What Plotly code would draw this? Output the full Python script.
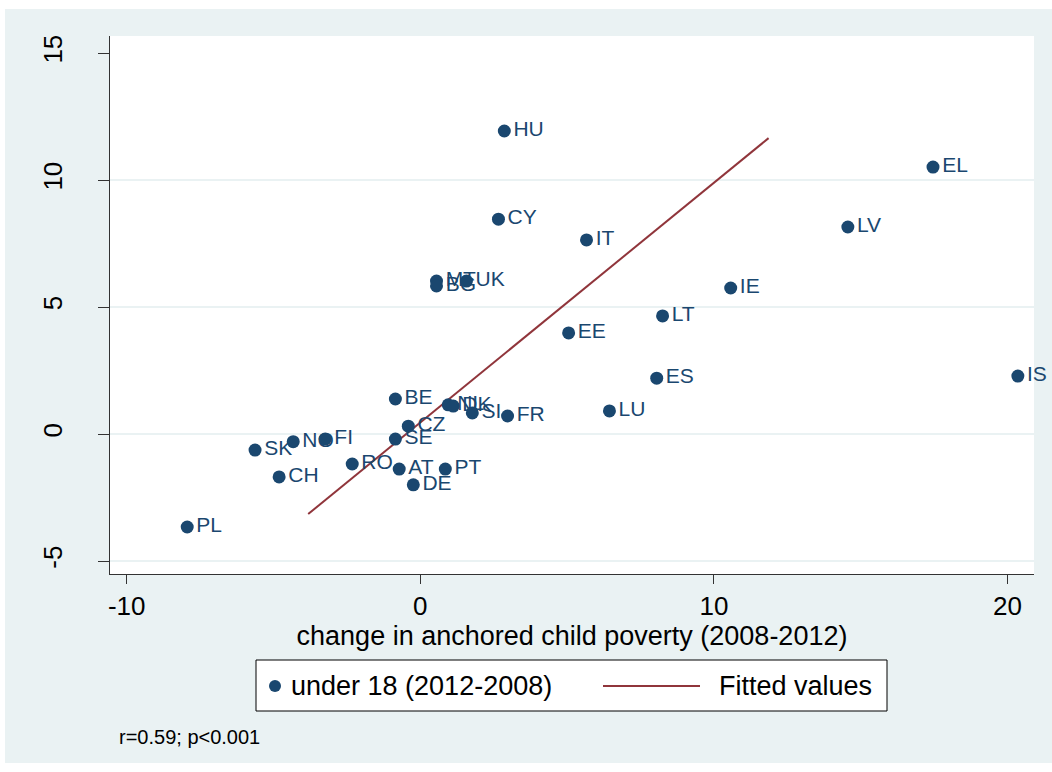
import plotly.graph_objects as go

# Country codes and values: x = change in anchored child poverty (2008-2012),
# y = change for under 18 (2012-2008)
countries = ["HU", "EL", "LV", "CY", "IT", "MT", "UK", "BG", "IE", "LT",
             "EE", "ES", "IS", "BE", "NL", "DK", "SI", "FR", "CZ", "SE",
             "AT", "PT", "DE", "RO", "LU", "SK", "NO", "FI", "CH", "PL"]
x_vals = [2.86, 17.46, 14.56, 2.66, 5.66, 0.55, 1.57, 0.55, 10.57, 8.25,
          5.05, 8.05, 20.35, -0.85, 0.95, 1.12, 1.77, 2.97, -0.41, -0.85,
          -0.72, 0.85, -0.24, -2.32, 6.44, -5.63, -4.33, -3.24, -4.81, -7.94]
y_vals = [11.93, 10.51, 8.15, 8.46, 7.64, 6.02, 6.02, 5.83, 5.75, 4.65,
          3.98, 2.20, 2.28, 1.38, 1.15, 1.10, 0.83, 0.71, 0.31, -0.20,
          -1.38, -1.38, -2.00, -1.18, 0.91, -0.63, -0.30, -0.20, -1.69, -3.66]

# Linear fit end points
fit_x = [-3.82, 11.86]
fit_y = [-3.15, 11.65]

x_ticks = [-10, 0, 10, 20]
x_tick_text = ["-10", "0", "10", "20"]
y_ticks = [-5, 0, 5, 10, 15]
y_tick_text = ["-5", "0", "5", "10", "15"]
grid_y = [-5, 0, 5, 10]

NAVY = "#1A476F"
MAROON = "#90353B"
PANEL = "#EAF2F3"
FONT = "Liberation Sans, Arial, sans-serif"

W, H = 1052, 772
L, R, T, B = 110, 18, 36, 198
PW, PH = W - L - R, H - T - B


def px(x):
    return (x - L) / PW


def py(y):
    return (H - B - y) / PH


fig = go.Figure()

fig.add_trace(go.Scatter(
    x=fit_x, y=fit_y, mode="lines",
    line=dict(color=MAROON, width=2),
    name="Fitted values", hoverinfo="skip",
))

fig.add_trace(go.Scatter(
    x=x_vals, y=y_vals, mode="markers+text",
    text=countries, textposition="middle right",
    textfont=dict(family=FONT, size=21, color=NAVY),
    marker=dict(color=NAVY, size=13),
    cliponaxis=False,
    name="under 18 (2012-2008)",
))

shapes = []
# horizontal grid lines
for g in grid_y:
    shapes.append(dict(type="line", xref="paper", yref="y", x0=0, x1=1,
                       y0=g, y1=g, line=dict(color=PANEL, width=2),
                       layer="below"))
# white border outside the grey panel
shapes += [
    dict(type="rect", xref="paper", yref="paper", x0=px(0), x1=px(W),
         y0=py(9), y1=py(0), fillcolor="white", line=dict(width=0)),
    dict(type="rect", xref="paper", yref="paper", x0=px(0), x1=px(5),
         y0=py(H), y1=py(0), fillcolor="white", line=dict(width=0)),
    dict(type="rect", xref="paper", yref="paper", x0=px(0), x1=px(W),
         y0=py(H), y1=py(763), fillcolor="white", line=dict(width=0)),
]
# legend box
shapes.append(dict(type="rect", xref="paper", yref="paper",
                   x0=px(256), x1=px(887), y0=py(711), y1=py(660),
                   fillcolor="white", line=dict(color="black", width=1)))
shapes.append(dict(type="circle", xref="paper", yref="paper",
                   x0=px(269), x1=px(281), y0=py(692), y1=py(680),
                   fillcolor=NAVY, line=dict(width=0)))
shapes.append(dict(type="line", xref="paper", yref="paper",
                   x0=px(603), x1=px(700), y0=py(686), y1=py(686),
                   line=dict(color=MAROON, width=2)))

annotations = [
    dict(xref="paper", yref="paper", x=px(289), y=py(686),
         text="under 18 (2012-2008)", showarrow=False, xanchor="left",
         yanchor="middle", font=dict(family=FONT, size=27, color="black")),
    dict(xref="paper", yref="paper", x=px(717), y=py(686),
         text="Fitted values", showarrow=False, xanchor="left",
         yanchor="middle", font=dict(family=FONT, size=27, color="black")),
    dict(xref="paper", yref="paper", x=px(117), y=py(737),
         text="r=0.59; p<0.001", showarrow=False, xanchor="left",
         yanchor="middle", font=dict(family=FONT, size=20, color="black")),
]

fig.update_layout(
    width=W, height=H,
    margin=dict(l=L, r=R, t=T, b=B),
    paper_bgcolor=PANEL, plot_bgcolor="white",
    showlegend=False,
    shapes=shapes, annotations=annotations,
    font=dict(family=FONT, color="black"),
)

fig.update_xaxes(
    range=[-10.57, 20.9], tickvals=x_ticks, ticktext=x_tick_text,
    showgrid=False, zeroline=False,
    showline=True, linecolor="#333333", linewidth=1,
    ticks="outside", ticklen=9, tickcolor="#333333",
    tickfont=dict(family=FONT, size=26, color="black"),
    title=dict(text="change in anchored child poverty (2008-2012)",
               font=dict(family=FONT, size=27, color="black"), standoff=0),
)
fig.update_yaxes(
    range=[-5.51, 15.67], tickvals=y_ticks, ticktext=y_tick_text,
    showgrid=False, zeroline=False,
    showline=True, linecolor="#333333", linewidth=1,
    ticks="outside", ticklen=11, tickcolor="#333333", tickangle=-90,
    ticklabelstandoff=26,
    tickfont=dict(family=FONT, size=26, color="black"),
)

fig.write_html("out.html")
